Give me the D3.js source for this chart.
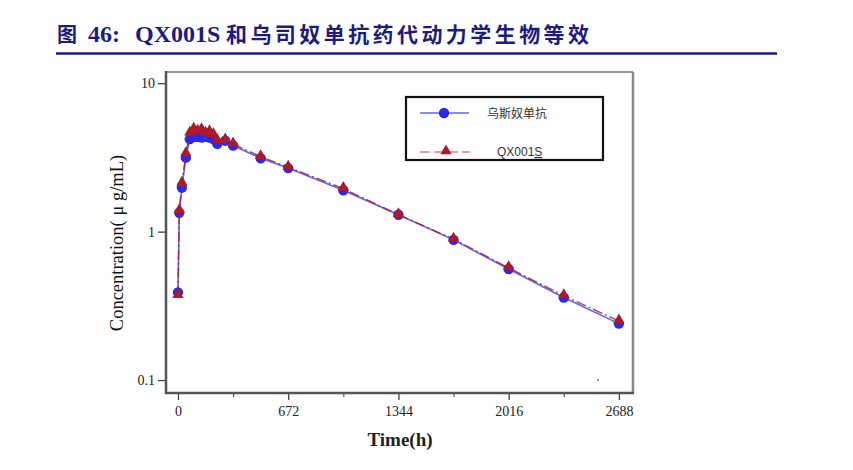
<!DOCTYPE html>
<html><head><meta charset="utf-8">
<script src="https://cdn.jsdelivr.net/npm/d3@7"></script>
<style>body{margin:0;background:#fff}svg{display:block}</style>
</head><body>
<svg id="c" width="853" height="470"></svg>
<script>
const titleParts = ["图", "46:", "QX001S"];
const titleCJK = "和乌司奴单抗药代动力学生物等效";
const seriesNames = ["乌斯奴单抗", "QX001S"];
const times = [0, 8, 24, 48, 72, 96, 120, 144, 168, 192, 216, 240, 288, 336, 504, 672, 1008, 1344, 1680, 2016, 2352, 2688];
const ustekinumab = [0.39, 1.34, 1.98, 3.15, 4.2, 4.35, 4.35, 4.3, 4.35, 4.3, 4.2, 3.9, 4.1, 3.8, 3.12, 2.68, 1.9, 1.3, 0.88, 0.56, 0.36, 0.24];
const qx001s = [0.37, 1.38, 2.12, 3.35, 4.6, 4.9, 4.75, 4.85, 4.6, 4.7, 4.5, 4.1, 4.15, 3.9, 3.2, 2.72, 1.95, 1.3, 0.89, 0.57, 0.37, 0.25];
const xTicks = [0, 672, 1344, 2016, 2688];
const xMinorTicks = [336, 1008, 1680, 2352];
const yTicks = [10, 1, 0.1];
const yTickLabels = ["10", "1", "0.1"];
const strayMark = [[2561, 0.1]];

const svg = d3.select("#c");
const navy = "#1d1a80";

// Title
const tpos = [57, 88, 135];
const tfont = ["'Noto Sans CJK SC',sans-serif", "'Liberation Serif',serif", "'Liberation Serif',serif"];
titleParts.forEach((s, i) => {
  svg.append("text").attr("x", tpos[i]).attr("y", 42).attr("fill", navy)
    .attr("font-weight", "bold").attr("font-size", i === 0 ? 20 : 24)
    .attr("font-family", tfont[i]).text(s);
});
svg.append("text").attr("x", 226).attr("y", 42).attr("fill", navy)
  .attr("font-weight", "bold").attr("font-size", 21)
  .attr("font-family", "'Noto Sans CJK SC',sans-serif")
  .attr("textLength", 363).attr("lengthAdjust", "spacing")
  .text(titleCJK);
svg.append("line").attr("x1", 56).attr("x2", 777).attr("y1", 53.5).attr("y2", 53.5)
  .attr("stroke", navy).attr("stroke-width", 2.5);

// Scales
const L = 166, R = 633, T = 72, B = 393;
const x = d3.scaleLinear().domain([-73, 2774]).range([L, R]);
const y = d3.scaleLog().domain([0.0818, 11.9]).range([B, T]);

// Frame
svg.append("line").attr("x1", L).attr("x2", R).attr("y1", T).attr("y2", T).attr("stroke", "#9a9a9a").attr("stroke-width", 2);
svg.append("line").attr("x1", R).attr("x2", R).attr("y1", T).attr("y2", B).attr("stroke", "#8a8a8a").attr("stroke-width", 2.5);
svg.append("line").attr("x1", L).attr("x2", L).attr("y1", T - 1).attr("y2", B + 1).attr("stroke", "#555").attr("stroke-width", 2.5);
svg.append("line").attr("x1", L - 1).attr("x2", R + 1).attr("y1", B).attr("y2", B).attr("stroke", "#555").attr("stroke-width", 2.5);

const serif = "'Liberation Serif','Times New Roman',serif";

// Y axis
const yAxis = d3.axisLeft(y).tickValues(yTicks).tickFormat((d, i) => yTickLabels[i]).tickSize(7).tickPadding(3);
const gy = svg.append("g").attr("transform", `translate(${L - 1},0)`).call(yAxis);
gy.select(".domain").remove();
gy.selectAll("line").attr("stroke", "#444").attr("stroke-width", 1.3);
gy.selectAll("text").attr("font-family", serif).attr("font-size", 14).attr("fill", "#222");

// X axis
const xAxis = d3.axisBottom(x).tickValues(xTicks).tickFormat(d3.format("d")).tickSize(6).tickPadding(6);
const gx = svg.append("g").attr("transform", `translate(0,${B + 1})`).call(xAxis);
gx.select(".domain").remove();
gx.selectAll("line").attr("stroke", "#444").attr("stroke-width", 1.3);
gx.selectAll("text").attr("font-family", serif).attr("font-size", 14).attr("fill", "#222");
const gxm = svg.append("g").attr("transform", `translate(0,${B + 1})`)
  .call(d3.axisBottom(x).tickValues(xMinorTicks).tickFormat("").tickSize(3));
gxm.select(".domain").remove();
gxm.selectAll("line").attr("stroke", "#555").attr("stroke-width", 1.2);

// Axis titles
svg.append("text").attr("transform", `translate(123,243) rotate(-90)`)
  .attr("text-anchor", "middle").attr("font-family", serif).attr("font-size", 18.5).attr("fill", "#111")
  .text("Concentration( μ g/mL)");
svg.append("text").attr("x", 400).attr("y", 446).attr("text-anchor", "middle")
  .attr("font-family", serif).attr("font-weight", "bold").attr("font-size", 19).attr("fill", "#222")
  .text("Time(h)");

// Series
const blueData = times.map((t, i) => [t, ustekinumab[i]]);
const redData = times.map((t, i) => [t, qx001s[i]]);
const line = d3.line().x(d => x(d[0])).y(d => y(d[1]));
const blue = "#2a2ae8", blueLine = "#5a64ff", red = "#b0192a";
const tri = d3.symbol().type(d3.symbolTriangle).size(55);

svg.append("path").datum(blueData).attr("d", line).attr("fill", "none").attr("stroke", blueLine).attr("stroke-width", 1.6);
svg.append("g").selectAll("circle").data(blueData).join("circle")
  .attr("cx", d => x(d[0])).attr("cy", d => y(d[1])).attr("r", 5.2).attr("fill", blue);

svg.append("path").datum(redData).attr("d", line).attr("fill", "none").attr("stroke", red).attr("stroke-width", 1.4).attr("stroke-dasharray", "10,3,2,3").attr("opacity", 0.85);
svg.append("g").selectAll("path").data(redData).join("path")
  .attr("d", tri).attr("transform", d => `translate(${x(d[0])},${y(d[1]) - 1})`).attr("fill", red);

svg.append("g").selectAll("rect").data(strayMark).join("rect")
  .attr("x", d => x(d[0]) - 1).attr("y", d => y(d[1]) - 1).attr("width", 2).attr("height", 2).attr("fill", "#8a8aff");

// Legend
const lg = svg.append("g");
lg.append("rect").attr("x", 406).attr("y", 97).attr("width", 197).attr("height", 63)
  .attr("fill", "#fff").attr("stroke", "#111").attr("stroke-width", 2.2);
lg.append("line").attr("x1", 420).attr("x2", 469).attr("y1", 113).attr("y2", 113).attr("stroke", blueLine).attr("stroke-width", 1.4);
lg.append("circle").attr("cx", 444).attr("cy", 113).attr("r", 5.2).attr("fill", blue);
lg.append("line").attr("x1", 420).attr("x2", 470).attr("y1", 152).attr("y2", 152).attr("stroke", red).attr("stroke-width", 1.2).attr("stroke-dasharray", "10,4").attr("opacity", 0.8);
lg.append("path").attr("d", tri).attr("transform", "translate(446,151)").attr("fill", red);
lg.append("text").attr("x", 487).attr("y", 118).attr("font-family", "'Noto Sans CJK SC',sans-serif").attr("font-size", 12).attr("fill", "#333").text(seriesNames[0]);
const lt = lg.append("text").attr("x", 497).attr("y", 156).attr("font-family", "'Liberation Sans',Arial,sans-serif").attr("font-size", 12).attr("fill", "#333");
lt.append("tspan").text(seriesNames[1].slice(0, -1));
lt.append("tspan").attr("text-decoration", "underline").text(seriesNames[1].slice(-1));
</script>
</body></html>
